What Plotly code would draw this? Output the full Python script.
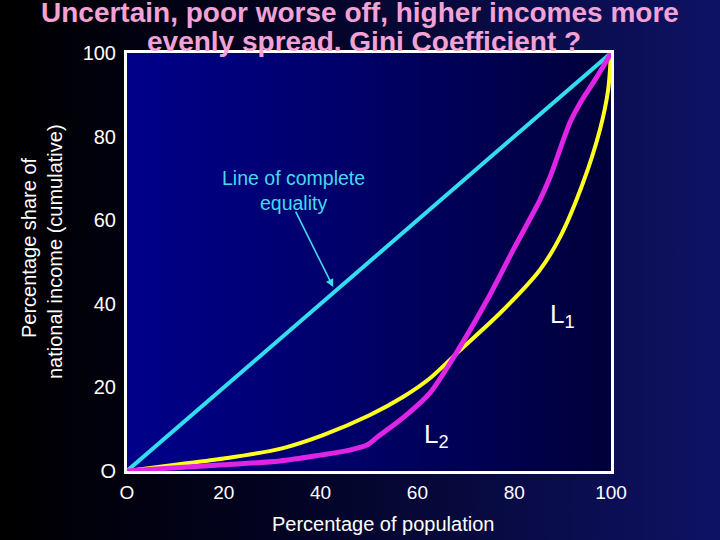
import plotly.graph_objects as go

# Lorenz curves (percent of population vs cumulative % of income)
pop_equal = [0, 100]
inc_equal = [0, 100]

pop_l1 = [0, 10, 20, 31.6, 40.5, 50.2, 57, 62.6, 68.8, 77.1, 85.3, 89.5, 94.2, 97.7, 99.4, 100]
inc_l1 = [0, 1.5, 3.0, 5.3, 8.6, 13.4, 17.7, 22.2, 28.9, 37.8, 48.1, 56.0, 68.9, 81.6, 91.1, 100]

pop_l2 = [0, 10, 20, 31.6, 39.9, 46, 49.6, 51.7, 57, 62.6, 68.8, 74.4, 79.8, 85.3, 87.4, 91.5, 93.6, 97.1, 100]
inc_l2 = [0, 0.8, 1.5, 2.4, 3.8, 5.0, 6.2, 8.1, 12.7, 18.7, 29.7, 40.9, 52.9, 64.8, 70.3, 83.3, 88.0, 94.3, 100]

tick_vals = [0, 20, 40, 60, 80, 100]
tick_text = ["O", "20", "40", "60", "80", "100"]

FONT = "Liberation Sans, Arial, sans-serif"
W, H = 720, 540
# plot box in pixels
X0, X1, Y0, Y1 = 127, 611, 53, 471

fig = go.Figure()

# slide background (full paper axes, pixel units)
fig.add_trace(go.Scatter(
    x=[0, W, W, 0, 0], y=[0, 0, H, H, 0], xaxis="x", yaxis="y",
    mode="lines", line=dict(width=0), fill="toself",
    fillgradient=dict(type="horizontal",
                      colorscale=[[0, "#000000"], [0.35, "#02021e"], [1, "#0e1264"]]),
    hoverinfo="skip", showlegend=False))

# plot area background
fig.add_trace(go.Scatter(
    x=[0, 100, 100, 0, 0], y=[0, 0, 100, 100, 0], xaxis="x2", yaxis="y2",
    mode="lines", line=dict(width=0), fill="toself",
    fillgradient=dict(type="horizontal",
                      colorscale=[[0, "#00008a"], [0.5, "#000066"], [1, "#00003a"]]),
    hoverinfo="skip", showlegend=False))

fig.add_trace(go.Scatter(x=pop_equal, y=inc_equal, xaxis="x2", yaxis="y2",
                         mode="lines", line=dict(color="#33dcee", width=4),
                         showlegend=False, hoverinfo="skip"))
fig.add_trace(go.Scatter(x=pop_l1, y=inc_l1, xaxis="x2", yaxis="y2",
                         mode="lines", line=dict(color="#ffff22", width=4, shape="spline", smoothing=0.8),
                         showlegend=False, hoverinfo="skip"))
fig.add_trace(go.Scatter(x=pop_l2, y=inc_l2, xaxis="x2", yaxis="y2",
                         mode="lines", line=dict(color="#e024e6", width=5, shape="spline", smoothing=0.8),
                         showlegend=False, hoverinfo="skip"))

pink = "#f2a2d4"
white = "#ffffff"
cyan_txt = "#44d8f0"

annotations = [
    dict(x=360, y=12, xref="x", yref="y", text="<b>Uncertain, poor worse off, higher incomes more</b>",
         showarrow=False, font=dict(family=FONT, size=28, color=pink)),
    dict(x=364, y=41, xref="x", yref="y", text="<b>evenly spread. Gini Coefficient ?</b>",
         showarrow=False, font=dict(family=FONT, size=28, color=pink)),
    dict(x=29, y=248, xref="x", yref="y", text="Percentage share of", textangle=-90,
         showarrow=False, font=dict(family=FONT, size=20, color=white)),
    dict(x=55, y=252, xref="x", yref="y", text="national income (cumulative)", textangle=-90,
         showarrow=False, font=dict(family=FONT, size=20, color=white)),
    dict(x=383, y=524, xref="x", yref="y", text="Percentage of population",
         showarrow=False, font=dict(family=FONT, size=20, color=white)),
    dict(x=34.5, y=67.2, xref="x2", yref="y2", text="Line of complete<br>equality",
         showarrow=False, font=dict(family=FONT, size=19.5, color=cyan_txt)),
    dict(x=42.6, y=44.0, xref="x2", yref="y2", ax=34.7, ay=62.4, axref="x2", ayref="y2",
         text="", showarrow=True, arrowhead=2, arrowsize=1, arrowwidth=1.6,
         arrowcolor=cyan_txt, standoff=0),
    dict(x=89.9, y=37.3, xref="x2", yref="y2", text="L<sub>1</sub>",
         showarrow=False, font=dict(family=FONT, size=26, color=white)),
    dict(x=64.0, y=8.6, xref="x2", yref="y2", text="L<sub>2</sub>",
         showarrow=False, font=dict(family=FONT, size=26, color=white)),
]

axis_common = dict(range=[0, 100], showgrid=False, zeroline=False,
                   showline=True, linecolor=white, linewidth=3, mirror=True,
                   tickvals=tick_vals, ticktext=tick_text,
                   ticks="outside", tickcolor="rgba(0,0,0,0)",
                   automargin=False, fixedrange=True)

fig.update_layout(
    width=W, height=H,
    margin=dict(l=0, r=0, t=0, b=0),
    paper_bgcolor="#000000",
    plot_bgcolor="rgba(0,0,0,0)",
    showlegend=False,
    xaxis=dict(domain=[0, 1], range=[0, W], visible=False, fixedrange=True),
    yaxis=dict(domain=[0, 1], range=[H, 0], visible=False, fixedrange=True),
    xaxis2=dict(domain=[X0 / W, X1 / W], anchor="y2", ticklen=2,
                tickfont=dict(family=FONT, size=19, color=white), **axis_common),
    yaxis2=dict(domain=[(H - Y1) / H, (H - Y0) / H], anchor="x2", ticklen=4,
                tickfont=dict(family=FONT, size=20, color=white), **axis_common),
    annotations=annotations,
)

# drop the page's default body margin so the figure sits at the window corner
fig.write_html("out.html", config={"displayModeBar": False},
               post_script="document.body.style.margin='0';document.body.style.background='#000';")
